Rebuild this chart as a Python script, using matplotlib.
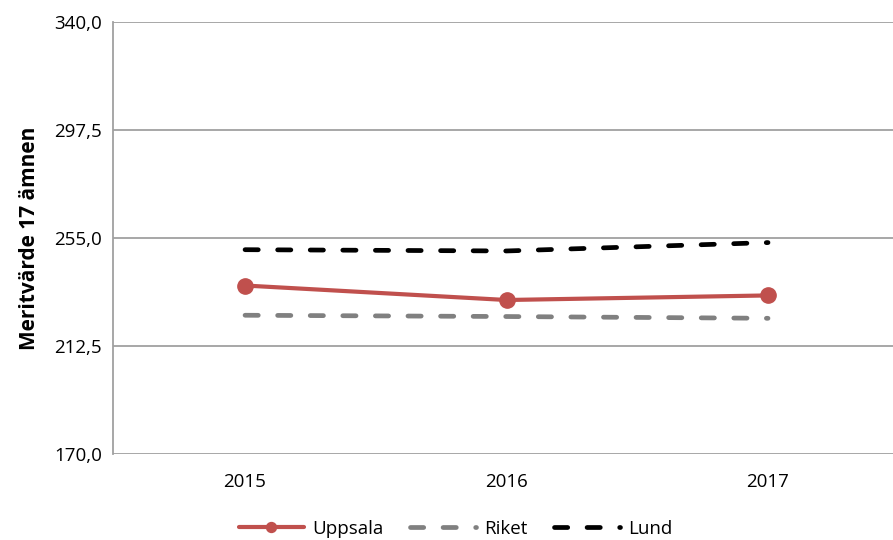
import matplotlib
matplotlib.use("Agg")
import matplotlib.pyplot as plt

# ── Data
years = ["2015", "2016", "2017"]
uppsala = [236.3, 230.6, 232.4]
riket = [224.6, 224.1, 223.4]
lund = [250.4, 249.9, 253.2]
yticks = [170.0, 212.5, 255.0, 297.5, 340.0]

plt.rcParams["font.family"] = ["Open Sans", "DejaVu Sans"]

fig = plt.figure(figsize=(8.93, 5.40), dpi=100)
ax = fig.add_axes([113 / 893, 1 - 454 / 540, 1 - 113 / 893, (454 - 22) / 540])

x = list(range(len(years)))
ax.plot(x, uppsala, color="#C0504D", lw=3.0, marker="o", ms=11,
        label="Uppsala", solid_capstyle="round", zorder=4)
ax.plot(x, riket, color="#808080", lw=3.4, dashes=(2.8, 4.1),
        dash_capstyle="round", label="Riket", zorder=3)
ax.plot(x, lund, color="black", lw=3.4, dashes=(2.8, 4.1),
        dash_capstyle="round", label="Lund", zorder=3)

ax.set_xlim(-0.505, 2.478)
ax.set_ylim(170, 340)
ax.set_xticks(x)
ax.set_xticklabels(years, fontsize=13.5)
ax.set_yticks(yticks)
ax.set_yticklabels([f"{v:.1f}".replace(".", ",") for v in yticks], fontsize=13.5)
ax.tick_params(length=0, pad=8)
ax.tick_params(axis="x", pad=14)

ax.grid(True, axis="y", color="#A0A0A0", lw=1.3)
ax.set_axisbelow(True)
for s in ["top", "right", "bottom"]:
    ax.spines[s].set_visible(False)
ax.spines["left"].set_color("#A0A0A0")
ax.spines["left"].set_linewidth(1.3)

ax.set_ylabel("Meritvärde 17 ämnen", fontsize=15, fontweight="bold", labelpad=10)

fig.legend(loc="center", bbox_to_anchor=(0.51, 1 - 529 / 540), ncol=3,
           frameon=False, fontsize=13.5, handlelength=3.5, handletextpad=0.45,
           columnspacing=1.4, markerscale=0.65, borderpad=0.1)

fig.savefig("out.png", dpi=100)
